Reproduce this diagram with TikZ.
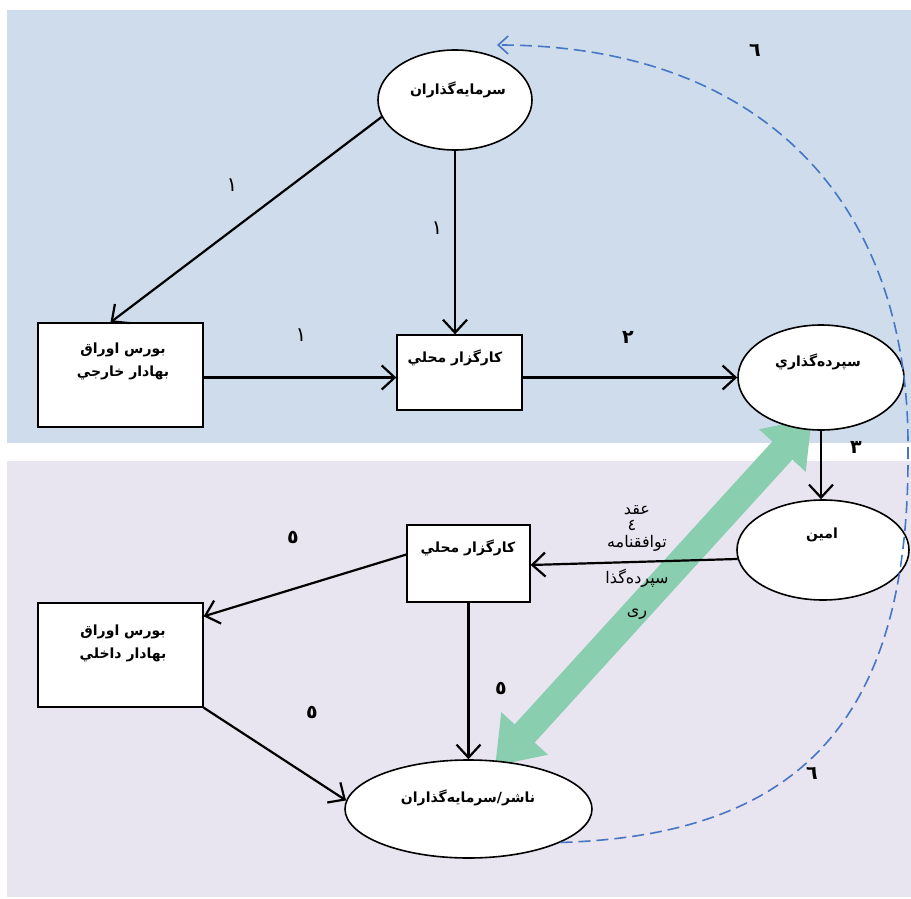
\documentclass[tikz,border=0pt]{standalone}
\usepackage{fontspec}
\usetikzlibrary{shapes.geometric,arrows.meta}
\TeXXeTstate=1
\newfontfamily\arfont[Script=Arabic]{DejaVu Sans}
\definecolor{topbg}{RGB}{207,220,236}
\definecolor{botbg}{RGB}{232,228,240}
\definecolor{gr}{RGB}{138,206,176}
\definecolor{dashblue}{RGB}{70,118,196}
\tikzset{
  ell/.style={ellipse,draw=black,line width=1.6pt,fill=white,inner sep=0pt},
  box/.style={rectangle,draw=black,line width=1.3pt,fill=white,inner sep=0pt},
  txt/.style={font=\arfont\bfseries\fontsize{14}{23}\selectfont,align=center,inner sep=0pt},
  num/.style={font=\arfont\bfseries\fontsize{19}{20}\selectfont,inner sep=0pt},
  lbl/.style={font=\arfont\fontsize{20}{20}\selectfont,inner sep=0pt},
  lbltxt/.style={font=\arfont\fontsize{16}{16}\selectfont,inner sep=0pt},
  arr/.style={line width=2.2pt,-{Straight Barb[length=13pt,width=24pt,line width=2.2pt]}},
  dashcurve/.style={draw=dashblue,line width=1.6pt,dash pattern=on 12pt off 6pt,
    -{Straight Barb[length=10pt,width=18pt,line width=1.6pt]}},
}
\begin{document}
\begin{tikzpicture}[x=1pt,y=-1pt]
\useasboundingbox (0,0) rectangle (911,899);
\fill[topbg] (7,10) rectangle (911,443);
\fill[botbg] (7,461) rectangle (911,897);

% green double arrow
\coordinate (gA) at (495,766);
\coordinate (gB) at (812,418);
\draw[gr,line width=27pt,{Triangle[length=44pt,width=60pt]}-{Triangle[length=44pt,width=60pt]}] (gA) -- (gB);

% nodes
\node[ell,minimum width=154pt,minimum height=100pt] (inv) at (455,100) {};
\node[box,minimum width=165pt,minimum height=104pt] (bourse1) at (120.5,375) {};
\node[box,minimum width=125pt,minimum height=75pt] (broker1) at (459.5,372.5) {};
\node[ell,minimum width=166pt,minimum height=105pt] (depos) at (821,377.5) {};
\node[ell,minimum width=172pt,minimum height=100pt] (amin) at (823,550) {};
\node[box,minimum width=123pt,minimum height=77pt] (broker2) at (468.5,563.5) {};
\node[box,minimum width=165pt,minimum height=104pt] (bourse2) at (120.5,655) {};
\node[ell,minimum width=247pt,minimum height=98pt] (issuer) at (468.5,809) {};

% node texts
\node[txt] (t-inv) at (458,90) {\beginR سرمایه‌گذاران\endR};
\node[txt] (t-b1) at (123,361) {\beginR بورس اوراق\endR\\\beginR بهادار خارجي\endR};
\node[txt] (t-k1) at (455,358) {\beginR کارگزار محلي\endR};
\node[txt] (t-dep) at (818,362) {\beginR سپرده‌گذاري\endR};
\node[txt] (t-amin) at (822,535) {\beginR امین\endR};
\node[txt] (t-k2) at (468,548) {\beginR کارگزار محلي\endR};
\node[txt] (t-b2) at (123,643) {\beginR بورس اوراق\endR\\\beginR بهادار داخلي\endR};
\node[txt] (t-iss) at (468,798) {\beginR ناشر/سرمایه‌گذاران\endR};

% connectors
\draw[arr] (inv.193) -- ([xshift=-10pt]bourse1.north);
\draw[arr] (inv.south) -- (inv.south |- broker1.north);
\draw[arr] (bourse1.east |- depos.west) -- (broker1.west |- depos.west);
\draw[arr] (broker1.east |- depos.west) -- (depos.west);
\draw[arr] (depos.south) -- (depos.south |- amin.north);
\draw[arr] (amin.186) -- ([yshift=-1.5pt]broker2.east);
\draw[arr] ([yshift=9pt]broker2.west) -- ([yshift=-14pt]bourse2.north east);
\draw[arr] (broker2.south) -- (issuer.north);
\draw[arr] (bourse2.south east) -- (issuer.176);

% dashed curve
\coordinate (dtip) at (497,45);
\draw[dashcurve] (issuer.-20) .. controls (800,835) and (910,720) .. (908,450)
   .. controls (910,200) and (760,45) .. (dtip);

% labels
\node[lbl] (n1a) at (232,185) {١};
\node[lbl] (n1b) at (437,228) {١};
\node[lbl] (n1c) at (301,335) {١};
\node[num] (n2) at (628,337) {٢};
\node[num] (n3) at (856,447) {٣};
\node[lbltxt] (n4a) at (637,510) {\beginR عقد\endR};
\node[lbltxt] (n4b) at (632,525) {٤};
\node[lbltxt] (n4c) at (637,543) {\beginR توافقنامه\endR};
\node[lbltxt] (n4d) at (637,578) {\beginR سپرده‌گذا\endR};
\node[lbltxt] (n4e) at (637,614) {\beginR ری\endR};
\node[num] (n5a) at (293,537) {٥};
\node[num] (n5b) at (501,688) {٥};
\node[num] (n5c) at (312,712) {٥};
\node[num] (n6a) at (755,50) {٦};
\node[num] (n6b) at (812,773) {٦};
\end{tikzpicture}
\end{document}
